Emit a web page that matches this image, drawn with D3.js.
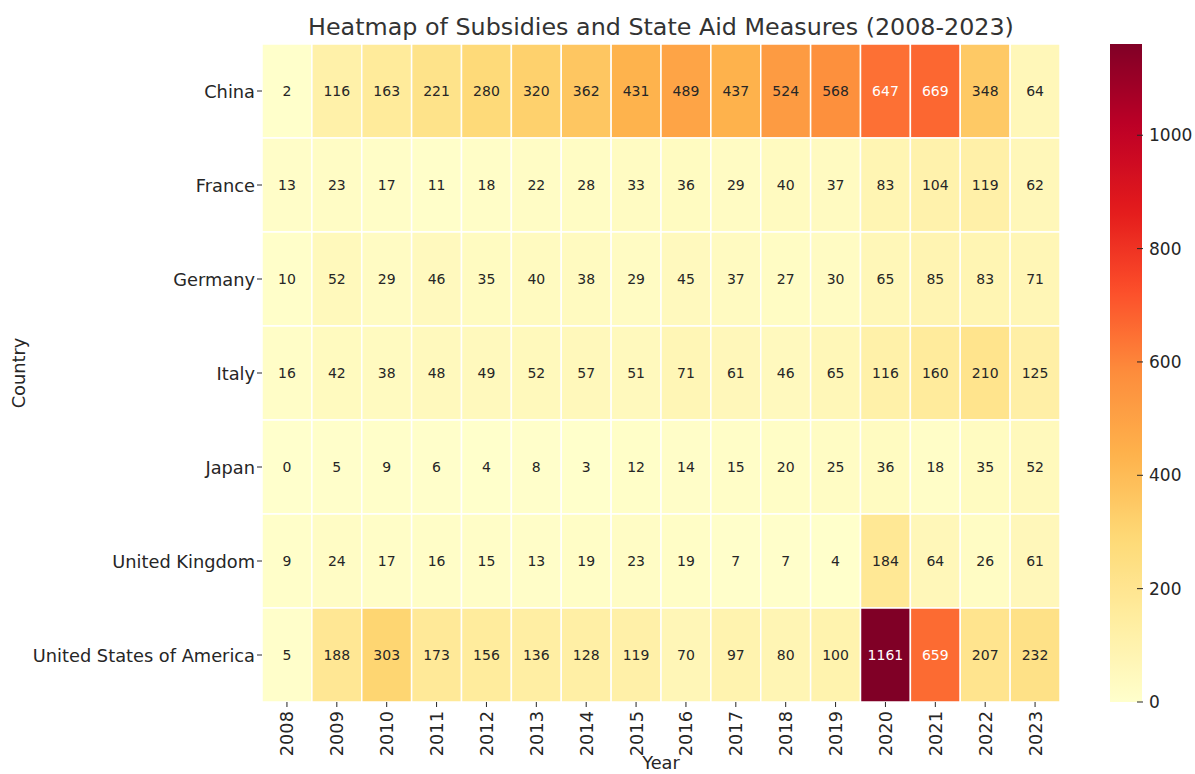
<!DOCTYPE html>
<html><head><meta charset="utf-8">
<script src="https://cdn.jsdelivr.net/npm/d3@7"></script>
<style>body{margin:0;background:#fff;} text{font-family:"DejaVu Sans",sans-serif;fill:#262626;}</style>
</head><body>
<svg id="chart" width="1195" height="774"></svg>
<script>
const years = ["2008","2009","2010","2011","2012","2013","2014","2015","2016","2017","2018","2019","2020","2021","2022","2023"];
const countries = ["China","France","Germany","Italy","Japan","United Kingdom","United States of America"];
const china   = [2,116,163,221,280,320,362,431,489,437,524,568,647,669,348,64];
const france  = [13,23,17,11,18,22,28,33,36,29,40,37,83,104,119,62];
const germany = [10,52,29,46,35,40,38,29,45,37,27,30,65,85,83,71];
const italy   = [16,42,38,48,49,52,57,51,71,61,46,65,116,160,210,125];
const japan   = [0,5,9,6,4,8,3,12,14,15,20,25,36,18,35,52];
const uk      = [9,24,17,16,15,13,19,23,19,7,7,4,184,64,26,61];
const usa     = [5,188,303,173,156,136,128,119,70,97,80,100,1161,659,207,232];
const colorbarTicks = [0,200,400,600,800,1000];
const rows = [china,france,germany,italy,japan,uk,usa];

const svg = d3.select("#chart");
const L=262, R=1060, T=44, B=702;
const x = d3.scaleBand().domain(years).range([L,R]);
const y = d3.scaleBand().domain(countries).range([T,B]);
const vmax = d3.max(rows.flat());
const brewer = ["#ffffcc","#ffeda0","#fed976","#feb24c","#fd8d3c","#fc4e2a","#e31a1c","#bd0026","#800026"];
const color = d3.scaleLinear().domain(brewer.map((_,i)=>i/8*vmax)).range(brewer).interpolate(d3.interpolateRgb).clamp(true);

function lum(c){
  const rgb=d3.rgb(c);
  const f=v=>{v/=255;return v<=0.03928?v/12.92:Math.pow((v+0.055)/1.055,2.4);};
  return 0.2126*f(rgb.r)+0.7152*f(rgb.g)+0.0722*f(rgb.b);
}

const cells=[];
rows.forEach((r,i)=>r.forEach((v,j)=>cells.push({c:countries[i],yr:years[j],v})));

svg.append("g").selectAll("rect").data(cells).join("rect")
  .attr("x",d=>x(d.yr)).attr("y",d=>y(d.c))
  .attr("width",x.bandwidth()).attr("height",y.bandwidth())
  .attr("fill",d=>color(d.v)).attr("stroke","#fff").attr("stroke-width",1.5);

svg.append("g").selectAll("text").data(cells).join("text")
  .attr("x",d=>x(d.yr)+x.bandwidth()/2).attr("y",d=>y(d.c)+y.bandwidth()/2)
  .attr("text-anchor","middle").attr("dominant-baseline","central")
  .attr("font-size",14)
  .style("fill",d=>lum(color(d.v))<0.408?"#ffffff":"#262626")
  .text(d=>d.v);

const TF=17.8;
// y axis
const ya = svg.append("g");
countries.forEach(c=>{
  const cy=y(c)+y.bandwidth()/2;
  ya.append("line").attr("x1",L-5).attr("x2",L).attr("y1",cy).attr("y2",cy).attr("stroke","#262626").attr("stroke-width",1);
  ya.append("text").attr("x",L-7).attr("y",cy).attr("text-anchor","end").attr("dominant-baseline","central").attr("font-size",TF).text(c);
});
// x axis
const xa = svg.append("g");
years.forEach(yr=>{
  const cx=x(yr)+x.bandwidth()/2;
  xa.append("line").attr("x1",cx).attr("x2",cx).attr("y1",B).attr("y2",B+5).attr("stroke","#262626").attr("stroke-width",1);
  xa.append("text").attr("transform",`translate(${cx},${B+9}) rotate(-90)`).attr("text-anchor","end").attr("dominant-baseline","central").attr("font-size",TF).text(yr);
});

svg.append("text").attr("x",(L+R)/2).attr("y",769).attr("text-anchor","middle").attr("font-size",TF).text("Year");
svg.append("text").attr("transform",`translate(18,${(T+B)/2}) rotate(-90)`).attr("text-anchor","middle").attr("dominant-baseline","central").attr("font-size",TF).text("Country");
svg.append("text").attr("x",661).attr("y",34.5).attr("text-anchor","middle").attr("font-size",23.8).style("fill","#333").text("Heatmap of Subsidies and State Aid Measures (2008-2023)");

// colorbar
const cbL=1110, cbR=1142;
const cs = d3.scaleLinear().domain([0,vmax]).range([B,T]);
const defs=svg.append("defs");
const grad=defs.append("linearGradient").attr("id","cb").attr("x1",0).attr("x2",0).attr("y1",1).attr("y2",0);
d3.range(0,1.0001,0.02).forEach(t=>grad.append("stop").attr("offset",t).attr("stop-color",color(t*vmax)));
svg.append("rect").attr("x",cbL).attr("y",T).attr("width",cbR-cbL).attr("height",B-T).attr("fill","url(#cb)");
const cb=svg.append("g");
colorbarTicks.forEach(t=>{
  cb.append("line").attr("x1",cbR-5).attr("x2",cbR+1).attr("y1",cs(t)).attr("y2",cs(t)).attr("stroke","#262626").attr("stroke-width",1);
  cb.append("text").attr("x",cbR+7).attr("y",cs(t)).attr("dominant-baseline","central").attr("font-size",17).text(t);
});
</script>
</body></html>
